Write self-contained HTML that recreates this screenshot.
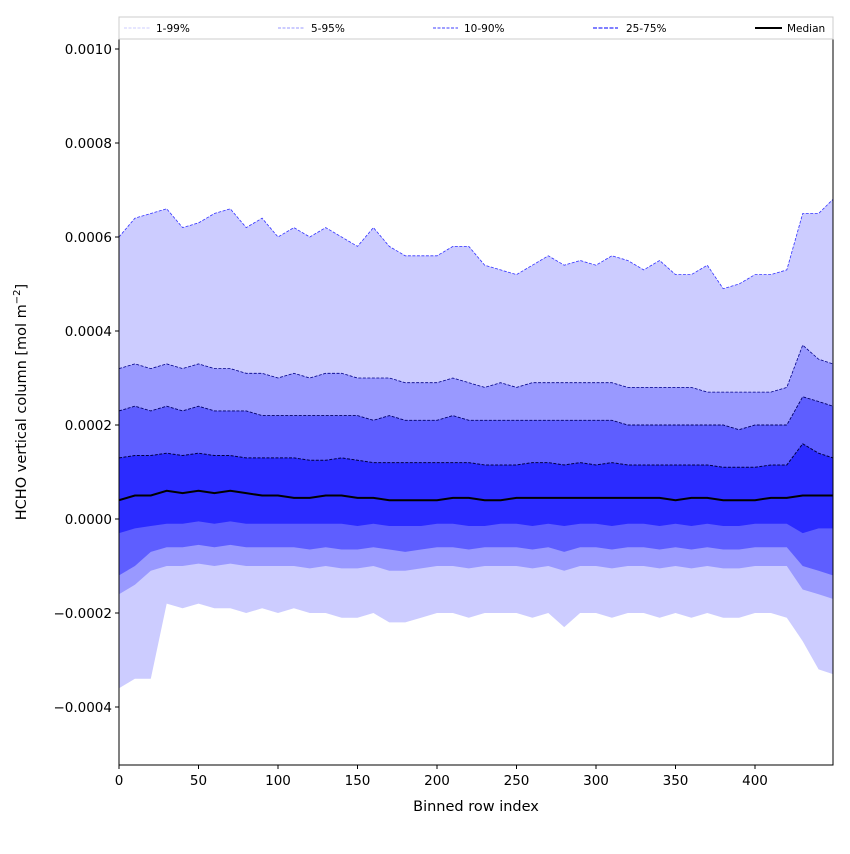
<!DOCTYPE html>
<html><head><meta charset="utf-8"><style>
body{margin:0;background:#fff;font-family:"DejaVu Sans","Liberation Sans",sans-serif}
svg text{font-family:"DejaVu Sans","Liberation Sans",sans-serif}
</style></head><body>
<svg id="chart" width="850" height="850" xmlns="http://www.w3.org/2000/svg"></svg>
<script>
const xIdx=[0,10,20,30,40,50,60,70,80,90,100,110,120,130,140,150,160,170,180,190,200,210,220,230,240,250,260,270,280,290,300,310,320,330,340,350,360,370,380,390,400,410,420,430,440,449];
const p99=[6.0,6.4,6.5,6.6,6.2,6.3,6.5,6.6,6.2,6.4,6.0,6.2,6.0,6.2,6.0,5.8,6.2,5.8,5.6,5.6,5.6,5.8,5.8,5.4,5.3,5.2,5.4,5.6,5.4,5.5,5.4,5.6,5.5,5.3,5.5,5.2,5.2,5.4,4.9,5.0,5.2,5.2,5.3,6.5,6.5,6.8];
const p95=[3.2,3.3,3.2,3.3,3.2,3.3,3.2,3.2,3.1,3.1,3.0,3.1,3.0,3.1,3.1,3.0,3.0,3.0,2.9,2.9,2.9,3.0,2.9,2.8,2.9,2.8,2.9,2.9,2.9,2.9,2.9,2.9,2.8,2.8,2.8,2.8,2.8,2.7,2.7,2.7,2.7,2.7,2.8,3.7,3.4,3.3];
const p90=[2.3,2.4,2.3,2.4,2.3,2.4,2.3,2.3,2.3,2.2,2.2,2.2,2.2,2.2,2.2,2.2,2.1,2.2,2.1,2.1,2.1,2.2,2.1,2.1,2.1,2.1,2.1,2.1,2.1,2.1,2.1,2.1,2.0,2.0,2.0,2.0,2.0,2.0,2.0,1.9,2.0,2.0,2.0,2.6,2.5,2.4];
const p75=[1.3,1.35,1.35,1.4,1.35,1.4,1.35,1.35,1.3,1.3,1.3,1.3,1.25,1.25,1.3,1.25,1.2,1.2,1.2,1.2,1.2,1.2,1.2,1.15,1.15,1.15,1.2,1.2,1.15,1.2,1.15,1.2,1.15,1.15,1.15,1.15,1.15,1.15,1.1,1.1,1.1,1.15,1.15,1.6,1.4,1.3];
const med=[0.4,0.5,0.5,0.6,0.55,0.6,0.55,0.6,0.55,0.5,0.5,0.45,0.45,0.5,0.5,0.45,0.45,0.4,0.4,0.4,0.4,0.45,0.45,0.4,0.4,0.45,0.45,0.45,0.45,0.45,0.45,0.45,0.45,0.45,0.45,0.4,0.45,0.45,0.4,0.4,0.4,0.45,0.45,0.5,0.5,0.5];
const p25=[-0.3,-0.2,-0.15,-0.1,-0.1,-0.05,-0.1,-0.05,-0.1,-0.1,-0.1,-0.1,-0.1,-0.1,-0.1,-0.15,-0.1,-0.15,-0.15,-0.15,-0.1,-0.1,-0.15,-0.15,-0.1,-0.1,-0.15,-0.1,-0.15,-0.1,-0.1,-0.15,-0.1,-0.1,-0.15,-0.1,-0.15,-0.1,-0.15,-0.15,-0.1,-0.1,-0.1,-0.3,-0.2,-0.2];
const p10=[-1.2,-1.0,-0.7,-0.6,-0.6,-0.55,-0.6,-0.55,-0.6,-0.6,-0.6,-0.6,-0.65,-0.6,-0.65,-0.65,-0.6,-0.65,-0.7,-0.65,-0.6,-0.6,-0.65,-0.6,-0.6,-0.6,-0.65,-0.6,-0.7,-0.6,-0.6,-0.65,-0.6,-0.6,-0.65,-0.6,-0.65,-0.6,-0.65,-0.65,-0.6,-0.6,-0.6,-1.0,-1.1,-1.2];
const p5=[-1.6,-1.4,-1.1,-1.0,-1.0,-0.95,-1.0,-0.95,-1.0,-1.0,-1.0,-1.0,-1.05,-1.0,-1.05,-1.05,-1.0,-1.1,-1.1,-1.05,-1.0,-1.0,-1.05,-1.0,-1.0,-1.0,-1.05,-1.0,-1.1,-1.0,-1.0,-1.05,-1.0,-1.0,-1.05,-1.0,-1.05,-1.0,-1.05,-1.05,-1.0,-1.0,-1.0,-1.5,-1.6,-1.7];
const p1=[-3.6,-3.4,-3.4,-1.8,-1.9,-1.8,-1.9,-1.9,-2.0,-1.9,-2.0,-1.9,-2.0,-2.0,-2.1,-2.1,-2.0,-2.2,-2.2,-2.1,-2.0,-2.0,-2.1,-2.0,-2.0,-2.0,-2.1,-2.0,-2.3,-2.0,-2.0,-2.1,-2.0,-2.0,-2.1,-2.0,-2.1,-2.0,-2.1,-2.1,-2.0,-2.0,-2.1,-2.6,-3.2,-3.3];
const yTicks=[0.0010,0.0008,0.0006,0.0004,0.0002,0.0000,-0.0002,-0.0004];
const xTicks=[0,50,100,150,200,250,300,350,400];
const L=119,R=833,T=39,B=765;
const X=v=>L+(v-0)*(755-119)/400;
const Y=v=>519-v*470000;
const Ys=v=>Y(v*1e-4);
const svg=document.getElementById('chart');
const NS='http://www.w3.org/2000/svg';
function mk(tag,attrs,parent){const e=document.createElementNS(NS,tag);for(const k in attrs)e.setAttribute(k,attrs[k]);(parent||svg).appendChild(e);return e;}
const clip=mk('clipPath',{id:'pc'});mk('rect',{x:L,y:T,width:R-L,height:B-T},clip);
const g=mk('g',{'clip-path':'url(#pc)'});
function band(lo,hi,fill,name){
  let d='M'+xIdx.map((x,i)=>X(x)+','+Ys(hi[i])).join('L');
  for(let i=xIdx.length-1;i>=0;i--)d+='L'+X(xIdx[i])+','+Ys(lo[i]);
  const p=mk('path',{d:d+'Z',fill:fill},g);
  
  
}
function line(arr,stroke,w,dash,name){
  const p=mk('path',{d:'M'+xIdx.map((x,i)=>X(x)+','+Ys(arr[i])).join('L'),fill:'none',stroke:stroke,'stroke-width':w,'stroke-dasharray':dash},g);
  
  
}
band(p1,p99,'#ccccff','band-1-99');
band(p5,p95,'#9999ff','band-5-95');
band(p10,p90,'#5e5eff','band-10-90');
band(p25,p75,'#2b2bff','band-25-75');
line(p99,'#3333ff',0.8,'3,1.5','line-p99');
line(p95,'#000088',0.8,'3,1.5','line-p95');
line(p90,'#000066',0.9,'3,1.5','line-p90');
line(p75,'#000044',1,'3,1.5','line-p75');
line(med,'#000',2,'','median-line');
mk('rect',{x:L,y:T,width:R-L,height:B-T,fill:'none',stroke:'#000','stroke-width':1});
yTicks.forEach(t=>{const y=Y(t);mk('line',{x1:L-4,x2:L,y1:y,y2:y,stroke:'#000'});
 const tx=mk('text',{x:L-7,y:y+5,'text-anchor':'end','font-size':13.5});tx.textContent=t.toFixed(4).replace('-','\u2212');
 });
xTicks.forEach(t=>{const x=X(t);mk('line',{x1:x,x2:x,y1:B,y2:B+4,stroke:'#000'});
 const tx=mk('text',{x:x,y:B+20,'text-anchor':'middle','font-size':13.5});tx.textContent=t;
 });
</script>
<svg width="850" height="850" style="position:absolute;left:0;top:0" xmlns="http://www.w3.org/2000/svg">
<text x="476" y="811" text-anchor="middle" font-size="14.5">Binned row index</text>
<text transform="translate(26,402) rotate(-90)" text-anchor="middle" font-size="14.5">HCHO vertical column [mol m<tspan font-size="10" dy="-6">−2</tspan><tspan dy="6">]</tspan></text>
<g>
<rect x="119" y="17" width="714" height="22" fill="#fff" stroke="#ccc"/>
<line x1="124" x2="150" y1="28" y2="28" stroke="#ccccff" stroke-dasharray="3,1.5"/>
<text x="156" y="32" font-size="10.5">1-99%</text>
<line x1="278" x2="305" y1="28" y2="28" stroke="#9999ff" stroke-dasharray="3,1.5"/>
<text x="311" y="32" font-size="10.5">5-95%</text>
<line x1="433" x2="458" y1="28" y2="28" stroke="#6666ff" stroke-width="1.3" stroke-dasharray="3,1.5"/>
<text x="464" y="32" font-size="10.5">10-90%</text>
<line x1="593" x2="618" y1="28" y2="28" stroke="#5555ff" stroke-width="1.6" stroke-dasharray="4,1.5"/>
<text x="626" y="32" font-size="10.5">25-75%</text>
<line x1="755" x2="782" y1="28" y2="28" stroke="#000" stroke-width="2"/>
<text x="787" y="32" font-size="10.5">Median</text>
</g>
</svg>
</body></html>
